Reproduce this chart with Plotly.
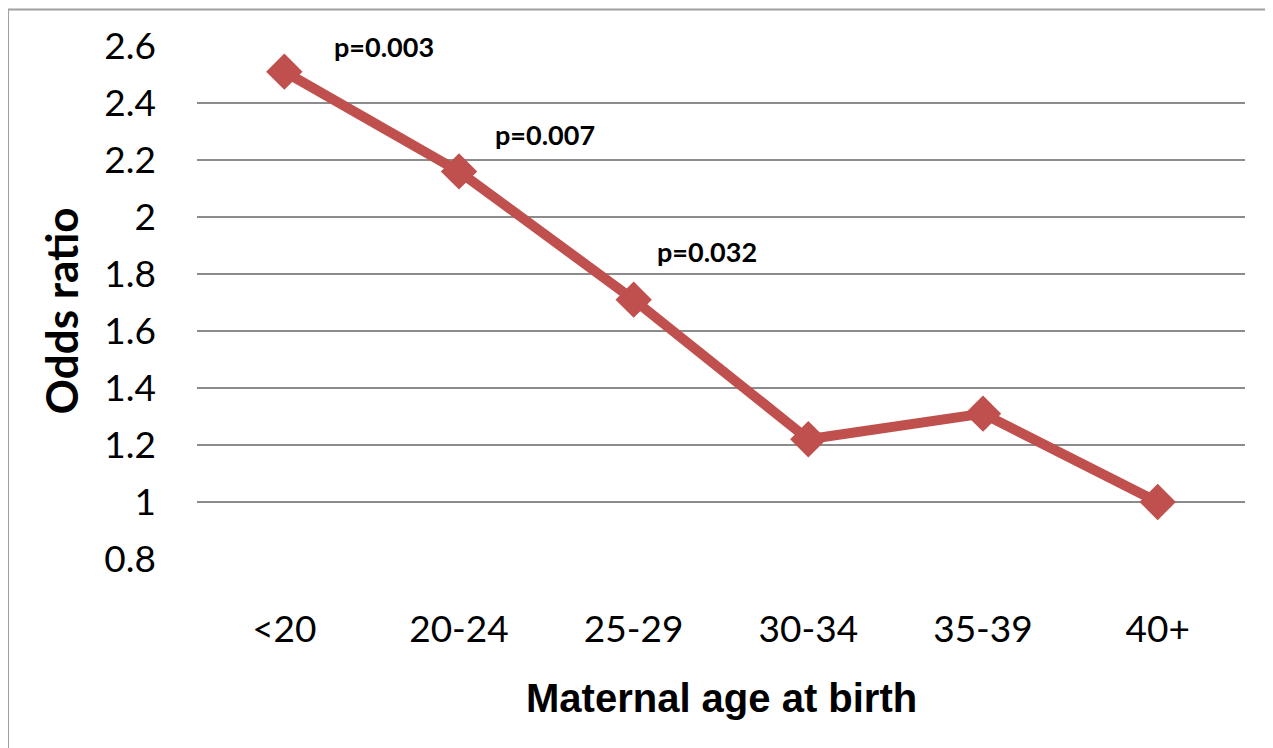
import plotly.graph_objects as go

categories = ["<20", "20-24", "25-29", "30-34", "35-39", "40+"]
odds_ratio = [2.51, 2.16, 1.71, 1.22, 1.31, 1.00]
y_ticks = [0.8, 1.0, 1.2, 1.4, 1.6, 1.8, 2.0, 2.2, 2.4, 2.6]
y_tick_labels = ["0.8", "1", "1.2", "1.4", "1.6", "1.8", "2", "2.2", "2.4", "2.6"]
p_labels = ["p=0.003", "p=0.007", "p=0.032"]
p_label_pos = [(0.57, 2.60), (1.49, 2.29), (2.42, 1.88)]

RED = "#C0504D"

fig = go.Figure()
fig.add_trace(go.Scatter(
    x=list(range(len(categories))), y=odds_ratio, mode="lines+markers",
    line=dict(color=RED, width=10),
    marker=dict(symbol="diamond", size=28, color=RED),
    hoverinfo="y", showlegend=False,
))

for txt, (px, py) in zip(p_labels, p_label_pos):
    fig.add_annotation(x=px, y=py, xref="x", yref="y", text=txt, showarrow=False,
                       font=dict(family="Lato", size=27, color="black", weight="bold"))

# axis titles
fig.add_annotation(x=0.5, y=-0.27, xref="paper", yref="paper", yanchor="middle",
                   text="<b>Maternal age at birth</b>", showarrow=False,
                   font=dict(family="Liberation Sans", size=40, color="black"))
fig.add_annotation(x=-0.13, y=0.484, xref="paper", yref="paper", xanchor="center",
                   text="<b>Odds ratio</b>", textangle=-90, showarrow=False,
                   font=dict(family="Lato", size=44, color="black"))

# outer chart border
fig.add_shape(type="rect", xref="paper", yref="paper",
              x0=-0.1803, x1=1.05, y0=-0.40, y1=1.071,
              line=dict(color="#A0A0A0", width=2), fillcolor="rgba(0,0,0,0)", layer="below")

fig.update_layout(
    width=1273, height=748,
    margin=dict(l=189, r=36, t=38, b=197, autoexpand=False),
    paper_bgcolor="white", plot_bgcolor="white",
    font=dict(family="Lato", size=36, color="black"),
    xaxis=dict(tickvals=list(range(len(categories))), ticktext=categories,
               range=[-0.5, len(categories) - 0.5], showgrid=False, zeroline=False,
               showline=False, ticks="", ticklabelstandoff=45,
               tickfont=dict(family="Lato", size=37)),
    yaxis=dict(tickvals=y_ticks, ticktext=y_tick_labels, range=[0.8, 2.6],
               showgrid=True, gridcolor="#8C8C8C", gridwidth=1.5, zeroline=False,
               showline=False, ticks="", ticklabelstandoff=40,
               tickfont=dict(family="Lato", size=37)),
)

fig.write_html("out.html")
